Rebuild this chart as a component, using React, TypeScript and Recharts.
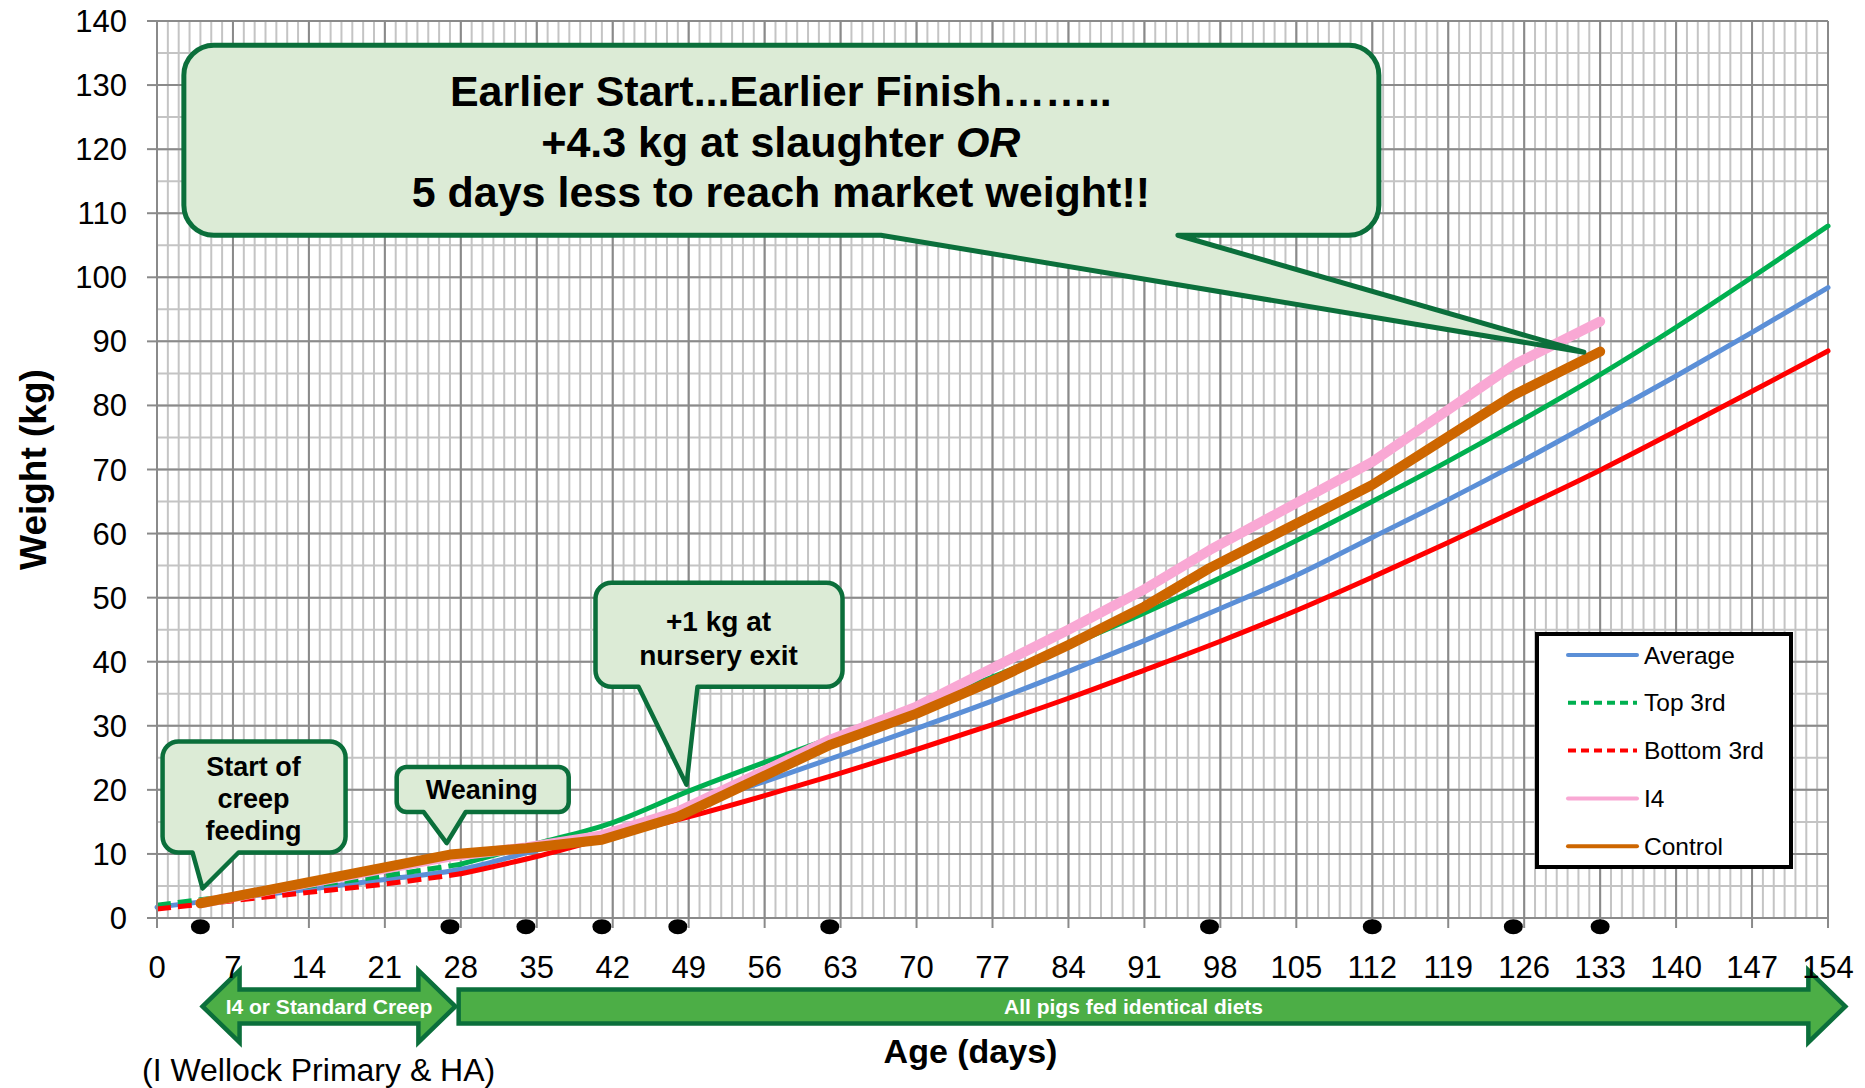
import React from 'react';
import {
  LineChart,
  Line,
  XAxis,
  YAxis,
  CartesianGrid,
  ReferenceDot,
  ReferenceLine,
} from 'recharts';

// ── Data ──────────────────────────────────────────────────

const weekDays = [0, 7, 14, 21, 28, 35, 42, 49, 56, 63, 70, 77, 84, 91, 98, 105, 112, 119, 126, 133, 140, 147, 154];
const averageKg = [1.7, 3.1, 4.5, 6.0, 7.6, 10.6, 13.7, 17.4, 21.3, 25.4, 29.6, 33.9, 38.5, 43.3, 48.3, 53.5, 59.4, 65.3, 71.5, 78.0, 84.6, 91.4, 98.4];
const topThirdKg = [2.0, 3.5, 5.0, 6.6, 8.4, 11.6, 14.9, 19.8, 24.3, 28.6, 33.0, 37.6, 42.5, 47.6, 53.1, 58.9, 65.0, 71.3, 77.9, 84.8, 92.2, 100.0, 108.0];
const bottomThirdKg = [1.4, 2.7, 4.0, 5.3, 6.9, 9.6, 12.8, 15.8, 19.1, 22.6, 26.3, 30.2, 34.3, 38.7, 43.2, 48.0, 53.2, 58.6, 64.2, 69.9, 76.0, 82.2, 88.5];

// weigh days (black dots) and read-off points of the two trial groups
const weighDays = [4, 27, 34, 41, 48, 62, 97, 112, 125, 133];
const trialDays = [4, 27, 34, 41, 48, 62, 70, 77, 84, 91, 97, 112, 125, 133];
const i4Kg = [2.3, 9.6, 11.0, 12.9, 16.6, 27.8, 33.0, 39.0, 45.0, 51.3, 57.4, 71.2, 86.3, 93.1];
const controlKg = [2.3, 9.9, 10.9, 12.2, 15.8, 27.0, 31.9, 37.0, 42.6, 48.6, 54.6, 67.6, 81.6, 88.4];

const xTicks = weekDays;
const yTicks = [0, 10, 20, 30, 40, 50, 60, 70, 80, 90, 100, 110, 120, 130, 140];
const weaningDay = 28;

// grid helpers (1 day / 5 kg)
const minorDays = Array.from({ length: 155 }, (_, i) => i);
const minorKg = Array.from({ length: 29 }, (_, i) => i * 5);

const toPoints = (days: number[], kg: number[]) => days.map((day, i) => ({ day, kg: kg[i] }));

const averageData = toPoints(weekDays, averageKg);
const topData = toPoints(weekDays, topThirdKg);
const bottomData = toPoints(weekDays, bottomThirdKg);
const i4Data = toPoints(trialDays, i4Kg);
const controlData = toPoints(trialDays, controlKg);

// ── Styles ────────────────────────────────────────────────

const FONT = '"Liberation Sans", Arial, sans-serif';
const GRID_MAJOR = '#8a8a8a';
const GRID_MINOR = '#c4c4c4';
const BOX_FILL = '#DCEBD6';
const BOX_EDGE = '#0B6F3B';
const ARROW_FILL = '#4CAE46';

const legendItems = [
  { name: 'Average', color: '#5B8FD7', dashed: false },
  { name: 'Top 3rd', color: '#00B050', dashed: true },
  { name: 'Bottom 3rd', color: '#FF0000', dashed: true },
  { name: 'I4', color: '#F9A8D4', dashed: false },
  { name: 'Control', color: '#CD6600', dashed: false },
];

// ── Annotations ───────────────────────────────────────────

type Line2 = string | [string, string];
interface CalloutSpec {
  day: number;
  kg: number;
  box: [number, number, number, number];
  tail: [number, number];
  radius: number;
  border: number;
  fontSize: number;
  textDx: number;
  textDy: number[];
  lines: Line2[];
}

const callouts: CalloutSpec[] = [
  {
    day: 4.2, kg: 4.6, box: [-40, -147, 183, 111], tail: [-10, 36], radius: 16, border: 4.5,
    fontSize: 27, textDx: 51, textDy: [-122, -90, -58], lines: ['Start of', 'creep', 'feeding'],
  },
  {
    day: 26.7, kg: 11.7, box: [-50, -76, 172, 45], tail: [-23, 19], radius: 10, border: 4.5,
    fontSize: 27, textDx: 35, textDy: [-53], lines: ['Weaning'],
  },
  {
    day: 48.8, kg: 20.8, box: [-91, -202, 247, 104], tail: [-48, 11], radius: 16, border: 4.5,
    fontSize: 28, textDx: 32, textDy: [-163, -129], lines: ['+1 kg at', 'nursery exit'],
  },
  {
    day: 131.5, kg: 88.3, box: [-1400, -307, 1195, 190], tail: [-703, -406], radius: 30, border: 5,
    fontSize: 43, textDx: -803, textDy: [-261, -210, -160],
    lines: ['Earlier Start...Earlier Finish……..', ['+4.3 kg at slaughter ', 'OR'], '5 days less to reach market weight!!'],
  },
];

const arrowBands = [
  { from: 4.2, to: 27.5, kg: -13.8, double: true, label: 'I4 or Standard Creep' },
  { from: 27.8, to: 155.6, kg: -13.8, double: false, label: 'All pigs fed identical diets' },
];

// ── Shapes ────────────────────────────────────────────────

function Callout({ cx, cy, spec }: { cx: number; cy: number; spec: CalloutSpec }) {
  const [bx, by, bw, bh] = spec.box;
  const l = cx + bx;
  const t = cy + by;
  const r = l + bw;
  const b = t + bh;
  const k = spec.radius;
  const t1 = cx + spec.tail[0];
  const t2 = cx + spec.tail[1];
  const d = `M${l + k},${t} H${r - k} A${k},${k} 0 0 1 ${r},${t + k} V${b - k} A${k},${k} 0 0 1 ${r - k},${b} H${t2} L${cx},${cy} L${t1},${b} H${l + k} A${k},${k} 0 0 1 ${l},${b - k} V${t + k} A${k},${k} 0 0 1 ${l + k},${t} Z`;
  return (
    <g>
      <path d={d} fill={BOX_FILL} stroke={BOX_EDGE} strokeWidth={spec.border} strokeLinejoin="round" />
      {spec.lines.map((line, i) => (
        <text
          key={i}
          x={cx + spec.textDx}
          y={cy + spec.textDy[i]}
          textAnchor="middle"
          dominantBaseline="central"
          fontFamily={FONT}
          fontWeight="bold"
          fontSize={spec.fontSize}
          fill="#000"
        >
          {typeof line === 'string' ? line : (
            <>
              {line[0]}
              <tspan fontStyle="italic">{line[1]}</tspan>
            </>
          )}
        </text>
      ))}
    </g>
  );
}

function BandArrow(props: any) {
  const { x1, x2, y1, double, label } = props;
  const y = y1;
  const hl = 37;
  const hh = 36;
  const bh = 17;
  const pts = double
    ? [
        [x1, y], [x1 + hl, y - hh], [x1 + hl, y - bh], [x2 - hl, y - bh], [x2 - hl, y - hh],
        [x2, y], [x2 - hl, y + hh], [x2 - hl, y + bh], [x1 + hl, y + bh], [x1 + hl, y + hh],
      ]
    : [
        [x1, y - bh], [x2 - hl, y - bh], [x2 - hl, y - hh], [x2, y],
        [x2 - hl, y + hh], [x2 - hl, y + bh], [x1, y + bh],
      ];
  const tx = double ? (x1 + x2) / 2 : (x1 + x2 - hl) / 2;
  return (
    <g>
      <polygon points={pts.map((p) => p.join(',')).join(' ')} fill={ARROW_FILL} stroke={BOX_EDGE} strokeWidth={4.5} />
      <text x={tx} y={y} textAnchor="middle" dominantBaseline="central" fontFamily={FONT} fontWeight="bold" fontSize={21} fill="#fff">
        {label}
      </text>
    </g>
  );
}

// ── Composant ─────────────────────────────────────────────

export default function App() {
  const tickStyle = { fill: '#000', fontSize: 31, fontFamily: FONT };
  const seriesLine = { dot: false, activeDot: false, isAnimationActive: false, legendType: 'none' as const };

  return (
    <div style={{ position: 'absolute', left: 0, top: 0, width: 1865, height: 1088, background: '#fff', fontFamily: FONT }}>
      <LineChart width={1865} height={1088} margin={{ top: 21, right: 37, bottom: 120, left: 97 }}>
        <CartesianGrid stroke={GRID_MINOR} strokeWidth={2} verticalValues={minorDays} horizontalValues={minorKg} />
        <CartesianGrid stroke={GRID_MAJOR} strokeWidth={2} />
        <XAxis
          dataKey="day"
          type="number"
          domain={[0, 154]}
          ticks={xTicks}
          interval={0}
          height={50}
          tick={tickStyle}
          tickSize={10}
          tickMargin={28}
          axisLine={{ stroke: GRID_MAJOR, strokeWidth: 2 }}
          tickLine={{ stroke: GRID_MAJOR, strokeWidth: 2 }}
          label={{
            content: (p: any) => {
              const vb = p.viewBox || { x: 157, y: 918, width: 1671 };
              return (
                <text x={vb.x + vb.width / 2 - 22} y={1051} textAnchor="middle" dominantBaseline="central" fontFamily={FONT} fontWeight="bold" fontSize={34} fill="#000">
                  Age (days)
                </text>
              );
            },
          }}
        />
        <YAxis
          type="number"
          domain={[0, 140]}
          ticks={yTicks}
          interval={0}
          width={60}
          tick={tickStyle}
          tickSize={10}
          tickMargin={20}
          axisLine={{ stroke: GRID_MAJOR, strokeWidth: 2 }}
          tickLine={{ stroke: GRID_MAJOR, strokeWidth: 2 }}
          label={{
            content: (p: any) => {
              const vb = p.viewBox || { x: 97, y: 21, height: 897 };
              const cx = vb.x - 64;
              const cy = vb.y + vb.height / 2;
              return (
                <text x={cx} y={cy} transform={`rotate(-90 ${cx} ${cy})`} textAnchor="middle" dominantBaseline="central" fontFamily={FONT} fontWeight="bold" fontSize={37} fill="#000">
                  Weight (kg)
                </text>
              );
            },
          }}
        />

        <Line data={averageData} dataKey="kg" type="monotone" stroke="#5B8FD7" strokeWidth={5} strokeLinecap="round" {...seriesLine} />
        <Line data={topData.filter((p) => p.day <= weaningDay)} dataKey="kg" type="monotone" stroke="#00B050" strokeWidth={5} strokeDasharray="14 7" {...seriesLine} />
        <Line data={topData.filter((p) => p.day >= weaningDay)} dataKey="kg" type="monotone" stroke="#00B050" strokeWidth={5} strokeLinecap="round" {...seriesLine} />
        <Line data={bottomData.filter((p) => p.day <= weaningDay)} dataKey="kg" type="monotone" stroke="#FF0000" strokeWidth={5} strokeDasharray="14 7" {...seriesLine} />
        <Line data={bottomData.filter((p) => p.day >= weaningDay)} dataKey="kg" type="monotone" stroke="#FF0000" strokeWidth={5} strokeLinecap="round" {...seriesLine} />
        <Line data={i4Data} dataKey="kg" type="linear" stroke="#F9A8D4" strokeWidth={10} strokeLinecap="round" strokeLinejoin="round" {...seriesLine} />
        <Line data={controlData} dataKey="kg" type="linear" stroke="#CD6600" strokeWidth={10} strokeLinecap="round" strokeLinejoin="round" {...seriesLine} />

        {weighDays.map((d) => (
          <ReferenceDot
            key={`w${d}`}
            x={d}
            y={-1.35}
            ifOverflow="visible"
            shape={(p: any) => <ellipse cx={p.cx} cy={p.cy} rx={9.5} ry={7.5} fill="#000" />}
          />
        ))}

        {callouts.map((c, i) => (
          <ReferenceDot
            key={`c${i}`}
            x={c.day}
            y={c.kg}
            ifOverflow="visible"
            shape={(p: any) => <Callout cx={p.cx} cy={p.cy} spec={c} />}
          />
        ))}

        {arrowBands.map((a, i) => (
          <ReferenceLine
            key={`a${i}`}
            segment={[{ x: a.from, y: a.kg }, { x: a.to, y: a.kg }]}
            ifOverflow="visible"
            shape={(p: any) => <BandArrow {...p} double={a.double} label={a.label} />}
          />
        ))}
      </LineChart>

      <svg width={1865} height={1088} style={{ position: 'absolute', left: 0, top: 0, pointerEvents: 'none' }}>
        <g transform="translate(1535,632)">
          <rect x={2} y={2} width={254} height={233} fill="#fff" stroke="#000" strokeWidth={4} />
          {legendItems.map((it, i) => {
            const y = 23 + i * 47.8;
            return (
              <g key={it.name}>
                <line x1={33} x2={102} y1={y} y2={y} stroke={it.color} strokeWidth={4} strokeDasharray={it.dashed ? '8 5' : undefined} strokeLinecap={it.dashed ? 'butt' : 'round'} />
                <text x={109} y={y} dominantBaseline="central" fontFamily={FONT} fontSize={24.5} fill="#000">
                  {it.name}
                </text>
              </g>
            );
          })}
        </g>
        <text x={142} y={1070} dominantBaseline="central" fontFamily={FONT} fontSize={32} fill="#000">
          (I Wellock Primary &amp; HA)
        </text>
      </svg>
    </div>
  );
}
